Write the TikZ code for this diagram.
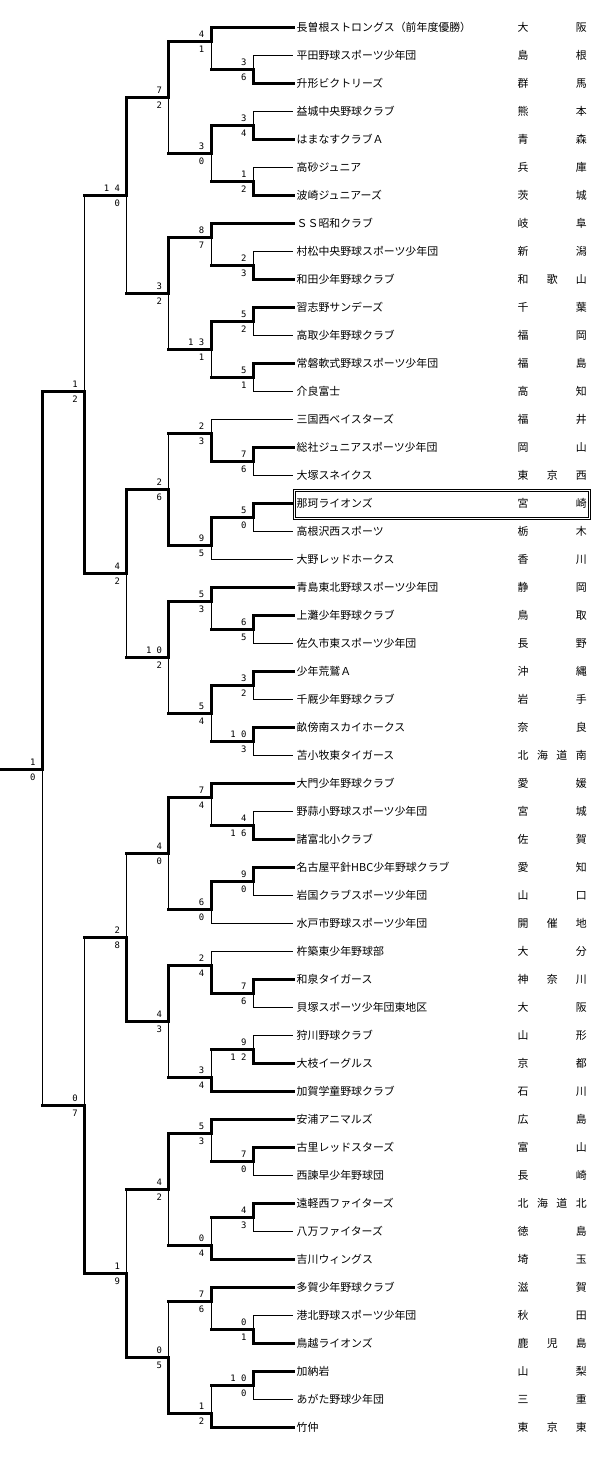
\documentclass[tikz,border=0pt]{standalone}
\usepackage{fontspec}
\newfontfamily\jpfont{Noto Sans CJK JP}
\newfontfamily\numfont{DejaVu Sans Mono}

\tikzset{
  win/.style={line width=3pt, line cap=rect},
  lose/.style={line width=1pt},
  team/.style={anchor=west, inner xsep=3.2pt, inner ysep=0pt, text height=9.6pt, text depth=1.3pt,
    font=\jpfont\fontsize{10.9}{12}\selectfont},
  pref/.style={anchor=west, inner sep=0pt, text height=9.6pt, text depth=1.3pt,
    font=\jpfont\fontsize{10.9}{12}\selectfont},
  score/.style={anchor=east, inner sep=0pt, text height=6.5pt, text depth=0pt,
    font=\numfont\fontsize{8.9}{10}\selectfont},
  champ/.style={double, double distance=1pt, line width=1pt}
}

% name, column, row, top, bottom, top score, bottom score, top style, bottom style
\newcommand{\bout}[9]{%
  \coordinate (#1) at ({42.2*#2},#3);
  \draw[win] ([xshift=-42.2pt]#1) -- (#1);
  \draw[#8] (#1) -- (#4 -| #1);
  \draw[#9] (#1) -- (#5 -| #1);
  \node[score] (#1u) at ([xshift=-6.5pt,yshift=7.5pt]#1) {#6};
  \node[score] (#1d) at ([xshift=-6.5pt,yshift=-8pt]#1) {#7};
}

\begin{document}
\begin{tikzpicture}[x=1pt, y=-28pt]
\fill[white] (0,-0.989) rectangle (611,51.046);
\useasboundingbox (0,-0.989) rectangle (611,51.046);

% teams
\foreach \nm/\pr/\k/\st [count=\i from 0] in {
  長曽根ストロングス（前年度優勝）/大 阪/5/win,
  平田野球スポーツ少年団/島 根/6/lose,
  升形ビクトリーズ/群 馬/6/win,
  益城中央野球クラブ/熊 本/6/lose,
  はまなすクラブＡ/青 森/6/win,
  高砂ジュニア/兵 庫/6/lose,
  波崎ジュニアーズ/茨 城/6/win,
  ＳＳ昭和クラブ/岐 阜/5/win,
  村松中央野球スポーツ少年団/新 潟/6/lose,
  和田少年野球クラブ/和 歌 山/6/win,
  習志野サンデーズ/千 葉/6/win,
  高取少年野球クラブ/福 岡/6/lose,
  常磐軟式野球スポーツ少年団/福 島/6/win,
  介良富士/高 知/6/lose,
  三国西ベイスターズ/福 井/5/lose,
  総社ジュニアスポーツ少年団/岡 山/6/win,
  大塚スネイクス/東 京 西/6/lose,
  那珂ライオンズ/宮 崎/6/win,
  高根沢西スポーツ/栃 木/6/lose,
  大野レッドホークス/香 川/5/lose,
  青島東北野球スポーツ少年団/静 岡/5/win,
  上灘少年野球クラブ/鳥 取/6/win,
  佐久市東スポーツ少年団/長 野/6/lose,
  少年荒鷲Ａ/沖 縄/6/win,
  千厩少年野球クラブ/岩 手/6/lose,
  畝傍南スカイホークス/奈 良/6/win,
  苫小牧東タイガース/北 海 道 南/6/lose,
  大門少年野球クラブ/愛 媛/5/win,
  野蒜小野球スポーツ少年団/宮 城/6/lose,
  諸富北小クラブ/佐 賀/6/win,
  名古屋平針HBC少年野球クラブ/愛 知/6/win,
  岩国クラブスポーツ少年団/山 口/6/lose,
  水戸市野球スポーツ少年団/開 催 地/5/lose,
  杵築東少年野球部/大 分/5/lose,
  和泉タイガース/神 奈 川/6/win,
  貝塚スポーツ少年団東地区/大 阪/6/lose,
  狩川野球クラブ/山 形/6/lose,
  大枝イーグルス/京 都/6/win,
  加賀学童野球クラブ/石 川/5/win,
  安浦アニマルズ/広 島/5/win,
  古里レッドスターズ/富 山/6/win,
  西諫早少年野球団/長 崎/6/lose,
  遠軽西ファイターズ/北 海 道 北/6/win,
  八万ファイターズ/徳 島/6/lose,
  吉川ウィングス/埼 玉/5/win,
  多賀少年野球クラブ/滋 賀/5/win,
  港北野球スポーツ少年団/秋 田/6/lose,
  鳥越ライオンズ/鹿 児 島/6/win,
  加納岩/山 梨/6/win,
  あがた野球少年団/三 重/6/lose,
  竹仲/東 京 東/5/win}{
  \node[team] (t\i) at (293.3,\i) {\nm};
  \node[pref] (p\i) at (517.5,\i) {\spaceskip=0pt plus 1fil\relax\makebox[69pt][s]{\pr}};
  \draw[\st] ({42.2*\k},\i) -- (t\i.west);
}

% first round
\bout{ma}{6}{1.5}{t1}{t2}{3}{6}{lose}{win}
\bout{mb}{6}{3.5}{t3}{t4}{3}{4}{lose}{win}
\bout{mc}{6}{5.5}{t5}{t6}{1}{2}{lose}{win}
\bout{mg}{6}{8.5}{t8}{t9}{2}{3}{lose}{win}
\bout{mi}{6}{10.5}{t10}{t11}{5}{2}{win}{lose}
\bout{mj}{6}{12.5}{t12}{t13}{5}{1}{win}{lose}
\bout{mm}{6}{15.5}{t15}{t16}{7}{6}{win}{lose}
\bout{mo}{6}{17.5}{t17}{t18}{5}{0}{win}{lose}
\bout{mr}{6}{21.5}{t21}{t22}{6}{5}{win}{lose}
\bout{mt}{6}{23.5}{t23}{t24}{3}{2}{win}{lose}
\bout{mu}{6}{25.5}{t25}{t26}{1 0}{3}{win}{lose}
\bout{mx}{6}{28.5}{t28}{t29}{4}{1 6}{lose}{win}
\bout{mz}{6}{30.5}{t30}{t31}{9}{0}{win}{lose}
\bout{mC}{6}{34.5}{t34}{t35}{7}{6}{win}{lose}
\bout{mE}{6}{36.5}{t36}{t37}{9}{1 2}{lose}{win}
\bout{mH}{6}{40.5}{t40}{t41}{7}{0}{win}{lose}
\bout{mJ}{6}{42.5}{t42}{t43}{4}{3}{win}{lose}
\bout{mM}{6}{46.5}{t46}{t47}{0}{1}{lose}{win}
\bout{mO}{6}{48.5}{t48}{t49}{1 0}{0}{win}{lose}

% second round
\bout{md}{5}{0.5}{t0}{ma}{4}{1}{win}{lose}
\bout{me}{5}{4.5}{mb}{mc}{3}{0}{win}{lose}
\bout{mh}{5}{7.5}{t7}{mg}{8}{7}{win}{lose}
\bout{mk}{5}{11.5}{mi}{mj}{1 3}{1}{win}{lose}
\bout{mn}{5}{14.5}{t14}{mm}{2}{3}{lose}{win}
\bout{mp}{5}{18.5}{mo}{t19}{9}{5}{win}{lose}
\bout{ms}{5}{20.5}{t20}{mr}{5}{3}{win}{lose}
\bout{mv}{5}{24.5}{mt}{mu}{5}{4}{win}{lose}
\bout{my}{5}{27.5}{t27}{mx}{7}{4}{win}{lose}
\bout{mA}{5}{31.5}{mz}{t32}{6}{0}{win}{lose}
\bout{mD}{5}{33.5}{t33}{mC}{2}{4}{lose}{win}
\bout{mF}{5}{37.5}{mE}{t38}{3}{4}{lose}{win}
\bout{mI}{5}{39.5}{t39}{mH}{5}{3}{win}{lose}
\bout{mK}{5}{43.5}{mJ}{t44}{0}{4}{lose}{win}
\bout{mN}{5}{45.5}{t45}{mM}{7}{6}{win}{lose}
\bout{mP}{5}{49.5}{mO}{t50}{1}{2}{lose}{win}

% third round
\bout{mf}{4}{2.5}{md}{me}{7}{2}{win}{lose}
\bout{ml}{4}{9.5}{mh}{mk}{3}{2}{win}{lose}
\bout{mq}{4}{16.5}{mn}{mp}{2}{6}{lose}{win}
\bout{mw}{4}{22.5}{ms}{mv}{1 0}{2}{win}{lose}
\bout{mB}{4}{29.5}{my}{mA}{4}{0}{win}{lose}
\bout{mG}{4}{35.5}{mD}{mF}{4}{3}{win}{lose}
\bout{mL}{4}{41.5}{mI}{mK}{4}{2}{win}{lose}
\bout{mQ}{4}{47.5}{mN}{mP}{0}{5}{lose}{win}

% quarter finals, semi finals, final
\bout{qa}{3}{6}{mf}{ml}{1 4}{0}{win}{lose}
\bout{qb}{3}{19.5}{mq}{mw}{4}{2}{win}{lose}
\bout{qc}{3}{32.5}{mB}{mG}{2}{8}{lose}{win}
\bout{qd}{3}{44.5}{mL}{mQ}{1}{9}{lose}{win}
\bout{sa}{2}{13}{qa}{qb}{1}{2}{lose}{win}
\bout{sb}{2}{38.5}{qc}{qd}{0}{7}{lose}{win}
\bout{fin}{1}{26.5}{sa}{sb}{1}{0}{win}{lose}

% champion
\draw[champ] (294.3,16.52) rectangle (589,17.52);
\end{tikzpicture}
\end{document}
